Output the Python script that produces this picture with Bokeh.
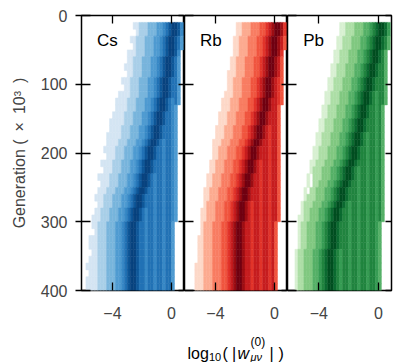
import numpy as np
from bokeh.plotting import figure
from bokeh.models import Range1d, LinearAxis, FixedTicker, Label, ColumnDataSource
from bokeh.layouts import row, column
from bokeh.embed import file_html
from bokeh.resources import INLINE

PANELS = ["Cs", "Rb", "Pb"]
X_TICKS = [-4, 0]
X_TICK_LABELS = {-4: "\u22124", 0: "0"}
Y_TICKS = [0, 100, 200, 300, 400]

# histogram binning (log10 bins of 0.2, generation rows of 10k starting at 10k)
BIN_X0 = -6.0
BIN_DX = 0.2
GEN0 = 10
GEN_STEP = 10

# each row: (first occupied bin, intensity level per bin 0-8)
CS_ROWS = [
    (17, "11222333445678875"),
    (18, "1222333445678875"),
    (16, "112223334456788764"),
    (17, "12223334456788764"),
    (15, "111222333445678875"),
    (15, "112223334456788764"),
    (14, "1112223334456788764"),
    (15, "112223334456788764"),
    (13, "11122233344567887664"),
    (14, "1122233344567887664"),
    (12, "111122233344567887664"),
    (11, "1111222333445678876564"),
    (11, "111122233344567887654"),
    (10, "1111222333445678876654"),
    (9, "11111222333445678876654"),
    (9, "11112223334456788766654"),
    (8, "111112223334456788766654"),
    (8, "111122233344567887656654"),
    (7, "1111222333445678876656654"),
    (8, "111222333445678876656654"),
    (6, "11112223334456788766656654"),
    (7, "1112223334456788766656654"),
    (5, "111122233344567887656656654"),
    (6, "11122233344567887656656654"),
    (5, "111222333445678876656656654"),
    (4, "1112223334456788766656656654"),
    (5, "112223334456788766656656654"),
    (4, "1122233344567887656656656654"),
    (3, "11122233344567887656656656654"),
    (3, "1122233344567887665665665664"),
    (4, "122233344567887665665665664"),
    (2, "11122233344567887665665665664"),
    (2, "11122233344567887665665665664"),
    (3, "1122233344567887665665665664"),
    (2, "11122233344567887665665665664"),
    (1, "111122233344567887665665665664"),
    (2, "11122233344567887665665665664"),
    (1, "111122233344567887665665665664"),
    (1, "111122233344567887665665665664"),
]

RB_ROWS = [
    (17, "11222333445678875"),
    (17, "11222333445678875"),
    (16, "112223334456788764"),
    (16, "112223334456788764"),
    (16, "11222333445678875"),
    (15, "112223334456788764"),
    (15, "112223334456788764"),
    (14, "1112223334456788764"),
    (14, "1122233344567887654"),
    (14, "1122233344567887654"),
    (13, "11122233344567887654"),
    (12, "111222333445678876654"),
    (12, "11122233344567887664"),
    (11, "111222333445678876664"),
    (11, "111222333445678876664"),
    (10, "1112223334456788765664"),
    (10, "1112223334456788765664"),
    (9, "11122233344567887665664"),
    (9, "11222333445678876665664"),
    (9, "11222333445678876665664"),
    (8, "112223334456788765665664"),
    (8, "112223334456788765665664"),
    (7, "1122233344567887665665664"),
    (7, "1122233344567887665665664"),
    (6, "11222333445678876665665664"),
    (6, "11222333445678876665665664"),
    (6, "12223334456788765665665664"),
    (5, "112223334456788765665665664"),
    (5, "112223334456788765665665664"),
    (5, "12223334456788766566566564"),
    (5, "12223334456788766566566564"),
    (4, "112223334456788766566566564"),
    (4, "112223334456788766566566564"),
    (4, "112223334456788766566566564"),
    (4, "112223334456788766566566564"),
    (3, "1112223334456788766566566564"),
    (3, "1112223334456788766566566564"),
    (3, "1112223334456788766566566564"),
    (3, "1112223334456788766566566564"),
]

PB_ROWS = [
    (17, "11222333445678875"),
    (17, "11222333445678875"),
    (16, "112223334456788764"),
    (16, "112223334456788764"),
    (15, "112223334456788764"),
    (15, "112223334456788764"),
    (14, "1122233344567887664"),
    (14, "1122233344567887664"),
    (13, "11222333445678876664"),
    (13, "11222333445678876664"),
    (12, "112223334456788765664"),
    (12, "112223334456788765664"),
    (11, "112223334456788766564"),
    (11, "112223334456788766564"),
    (10, "1122233344567887666564"),
    (10, "1122233344567887666564"),
    (9, "11222333445678876566564"),
    (9, "11222333445678876566564"),
    (8, "112223334456788766566564"),
    (8, "112223334456788766566564"),
    (7, "1122233344567887666566564"),
    (7, "1222333445678876566566564"),
    (6, "10222333445678876566566564"),
    (6, "10223334456788766566566564"),
    (5, "102233344567887666566566564"),
    (5, "122233344567887666566566564"),
    (4, "1222333445678876566566566564"),
    (4, "1223334456788766566566566564"),
    (3, "11223334456788766566566566564"),
    (3, "1223334456788766656656656654"),
    (3, "1223334456788766656656656654"),
    (3, "1223334456788766656656656654"),
    (3, "1223334456788766656656656654"),
    (2, "12233344567887656656656656654"),
    (2, "12233344567887656656656656654"),
    (2, "12233344567887656656656656654"),
    (2, "12233344567887656656656656654"),
    (2, "12233344567887656656656656654"),
    (2, "12233344567887656656656656654"),
]

BLUES = ["#d4e5f3", "#a9cfe8", "#78b5dc", "#4f9bd1", "#3889c6", "#2272b5", "#0e5798", "#08437f"]
REDS = ["#fdd8c8", "#fcab90", "#f87d62", "#f0553f", "#e2342a", "#c61d1f", "#9c0d13", "#700011"]
GREENS = ["#d8f0d2", "#addea6", "#80c880", "#55b067", "#379c54", "#20843f", "#0b6a30", "#004e20"]

FONT = "Liberation Sans"
FRAME_W = [103, 103, 104]
FRAME_H = 275
TOP = 15
BOTTOM = 36
LEFT = 81
RIGHT = 6
TITLE_H = 36


def cells(rows, palette):
    d = dict(left=[], right=[], top=[], bottom=[], color=[])
    for j, (start, levels) in enumerate(rows):
        g0 = GEN0 + GEN_STEP * j
        for k, ch in enumerate(levels):
            lv = int(ch)
            if lv == 0:
                continue
            c = start + k
            d["left"].append(BIN_X0 + BIN_DX * c)
            d["right"].append(BIN_X0 + BIN_DX * (c + 1))
            d["top"].append(g0)
            d["bottom"].append(g0 + GEN_STEP)
            d["color"].append(palette[lv - 1])
    return ColumnDataSource(d)


def hidden_axis(ticks, tick_in):
    return LinearAxis(ticker=FixedTicker(ticks=ticks), major_tick_in=tick_in, major_tick_out=0,
                      minor_tick_line_color=None, axis_line_color=None,
                      major_label_text_font_size="0px", major_label_standoff=0,
                      major_label_overrides={t: "" for t in ticks},
                      major_tick_line_width=1.3, major_tick_line_color="black")


y_range = Range1d(400, 0)


def make_panel(i, rows, palette):
    first = i == 0
    last = i == len(PANELS) - 1
    mbl = LEFT if first else 0
    mbr = RIGHT if last else 0
    p = figure(width=FRAME_W[i] + mbl + mbr, height=TOP + FRAME_H + BOTTOM,
               x_range=Range1d(-6.1, 0.88), y_range=y_range,
               x_axis_type=None, y_axis_type=None,
               output_backend="svg", toolbar_location=None,
               min_border_left=mbl, min_border_right=mbr,
               min_border_top=TOP, min_border_bottom=BOTTOM)
    p.outline_line_color = "black"
    p.outline_line_width = 1.5
    p.background_fill_color = "white"
    p.border_fill_color = "white"

    p.quad(left="left", right="right", top="top", bottom="bottom", source=cells(rows, palette),
           fill_color="color", line_color="color", line_width=0.5)

    bx = LinearAxis(ticker=FixedTicker(ticks=X_TICKS), major_label_overrides=X_TICK_LABELS,
                    major_tick_in=8, major_tick_out=0, minor_tick_line_color=None,
                    axis_line_color=None, major_label_text_font=FONT,
                    major_label_text_font_size="16px", major_label_standoff=16,
                    major_tick_line_width=1.3)
    p.add_layout(bx, "below")
    p.add_layout(hidden_axis(X_TICKS, 8), "above")
    if first:
        ly = LinearAxis(ticker=FixedTicker(ticks=Y_TICKS), major_tick_in=9, major_tick_out=6,
                        minor_tick_line_color=None, axis_line_color=None,
                        major_label_text_font=FONT, major_label_text_font_size="16px",
                        major_label_standoff=8, major_tick_line_width=1.3,
                        axis_label="Generation (\u2002\u00d7\u200210\u00b3\u2002)",
                        axis_label_text_font=FONT,
                        axis_label_text_font_size="16px", axis_label_text_font_style="normal",
                        axis_label_standoff=10)
        p.add_layout(ly, "left")
    else:
        p.add_layout(hidden_axis(Y_TICKS, 9), "left")
    p.add_layout(hidden_axis(Y_TICKS, 6), "right")

    p.add_layout(Label(x=-5.05, y=22, text=PANELS[i], text_baseline="top", text_align="left",
                       text_font=FONT, text_font_size="17px", text_color="black"))
    return p


p_cs = make_panel(0, CS_ROWS, BLUES)
p_rb = make_panel(1, RB_ROWS, REDS)
p_pb = make_panel(2, PB_ROWS, GREENS)

# composite x-axis title log10(|w^(0)_{mu nu}|) in a strip under the panels (pixel units)
total_w = LEFT + sum(FRAME_W) + RIGHT
t = figure(width=total_w, height=TITLE_H, x_range=Range1d(0, total_w), y_range=Range1d(TITLE_H, 0),
           x_axis_type=None, y_axis_type=None, output_backend="svg", toolbar_location=None,
           min_border=0, outline_line_color=None)
t.background_fill_color = "white"
t.border_fill_color = "white"
pieces = [
    ("log", 187, 27, "16px", "normal"),
    ("10", 208.5, 30, "11px", "normal"),
    ("(", 222, 27, "16px", "normal"),
    ("|", 231.5, 27, "16px", "normal"),
    ("w", 237, 27, "16px", "italic"),
    ("(0)", 250, 15, "12px", "normal"),
    ("\u03bc\u03bd", 250, 30, "11px", "italic"),
    ("|", 269, 27, "16px", "normal"),
    (")", 278, 27, "16px", "normal"),
]
for txt, px, py, fs, st in pieces:
    t.add_layout(Label(x=px, y=py, text=txt, text_baseline="alphabetic", text_align="left",
                       text_font=FONT, text_font_size=fs, text_font_style=st,
                       text_color="black"))

layout = column(row(p_cs, p_rb, p_pb), t)
open("out.html", "w").write(file_html(layout, INLINE))
